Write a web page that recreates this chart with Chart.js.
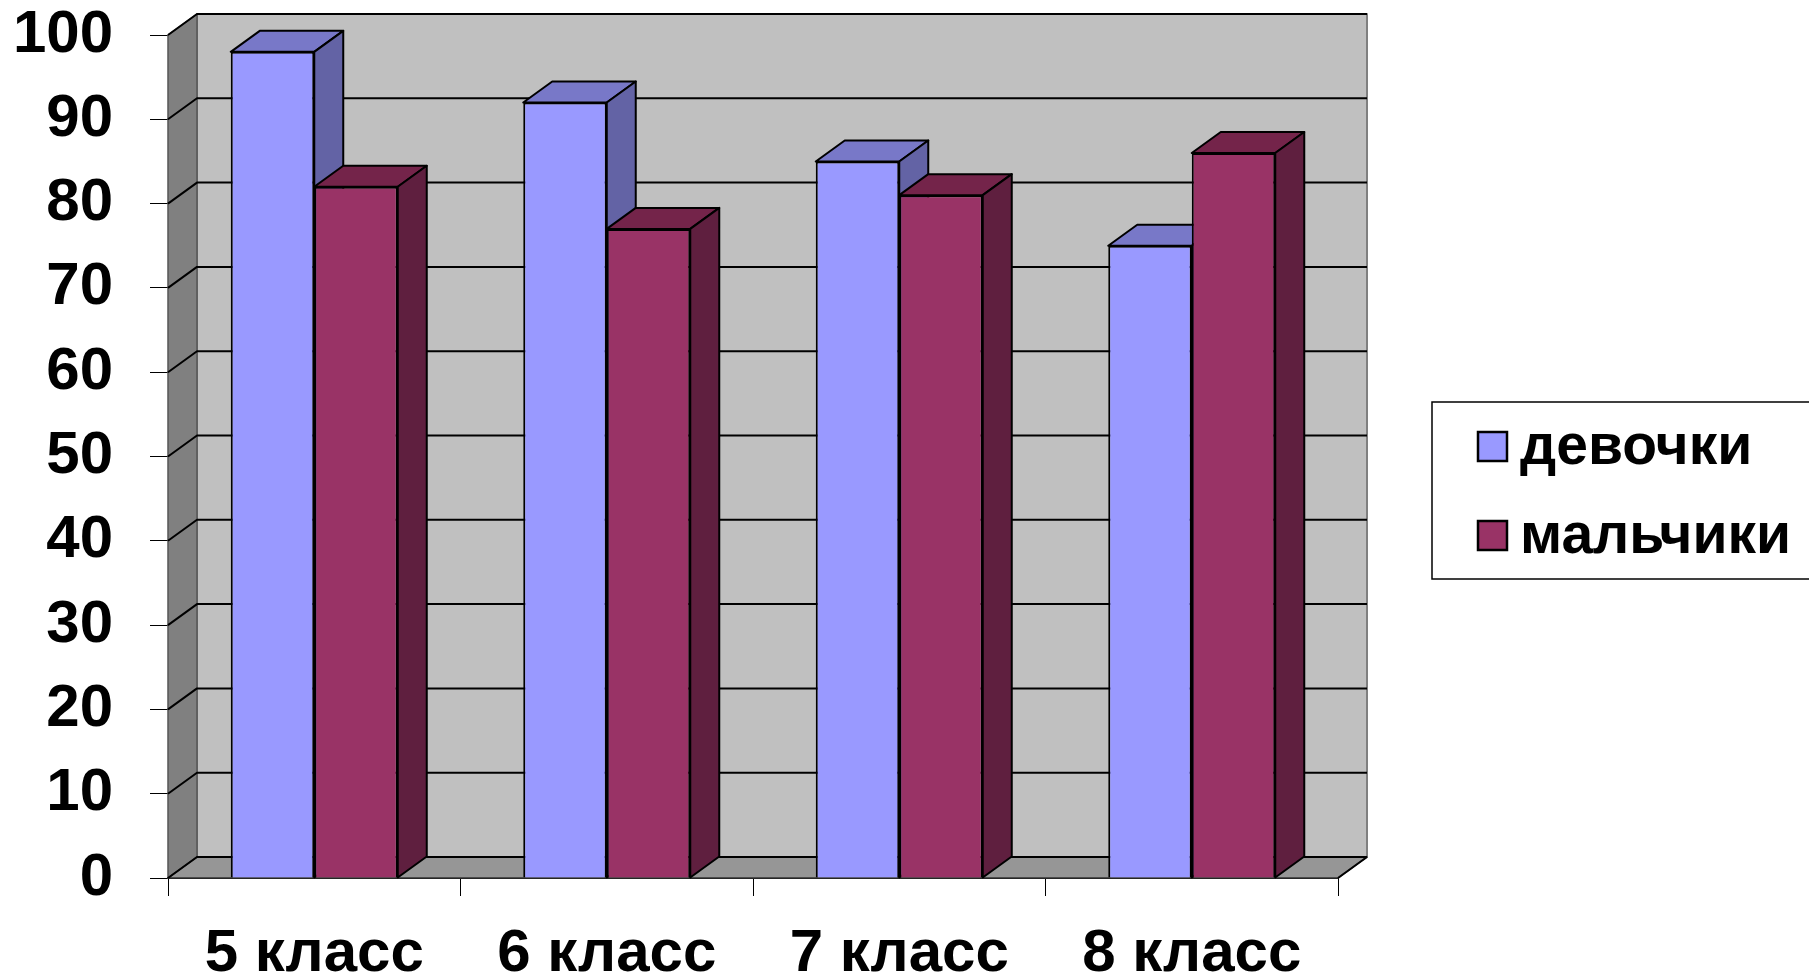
<!DOCTYPE html>
<html>
<head>
<meta charset="utf-8">
<script src="https://cdn.jsdelivr.net/npm/chart.js@4.4.0/dist/chart.umd.min.js"></script>
<style>
  html, body { margin: 0; padding: 0; background: #ffffff; }
  #wrap { width: 1809px; height: 977px; }
</style>
</head>
<body>
<div id="wrap"><canvas id="c" width="1809" height="977"></canvas></div>
<script>
// ---- data ----
const categories = ['5 класс', '6 класс', '7 класс', '8 класс'];
const girlsLabel = 'девочки';
const boysLabel = 'мальчики';
const girlsValues = [98, 92, 85, 75];
const boysValues = [82, 77, 81, 86];
const yTicks = [0, 10, 20, 30, 40, 50, 60, 70, 80, 90, 100];

// ---- style ----
const FONT = '"Liberation Sans", Arial, Helvetica, sans-serif';
const DX = 29, DY = 21;               // 3D depth offset
const girlsColors = { front: '#9999FF', top: '#7878C8', side: '#6363A5' };
const boysColors  = { front: '#993366', top: '#74244A', side: '#5F1F3F' };

function poly(ctx, pts, fill, stroke, lw) {
  ctx.beginPath();
  ctx.moveTo(pts[0][0], pts[0][1]);
  for (let i = 1; i < pts.length; i++) ctx.lineTo(pts[i][0], pts[i][1]);
  ctx.closePath();
  if (fill) { ctx.fillStyle = fill; ctx.fill(); }
  if (stroke) { ctx.strokeStyle = stroke; ctx.lineWidth = lw || 1; ctx.stroke(); }
}

const threeD = {
  id: 'threeD',
  beforeDatasetsDraw(chart) {
    const ctx = chart.ctx;
    const ys = chart.scales.y, ca = chart.chartArea;
    const L = ca.left, R = ca.right, T = ys.getPixelForValue(100), B = ys.getPixelForValue(0);
    ctx.save();
    ctx.lineJoin = 'round';
    // back wall
    poly(ctx, [[L + DX, T - DY], [R + DX, T - DY], [R + DX, B - DY], [L + DX, B - DY]], '#C0C0C0', '#808080', 2);
    // left wall
    poly(ctx, [[L, T], [L + DX, T - DY], [L + DX, B - DY], [L, B]], '#808080', '#555555', 1.5);
    // floor
    poly(ctx, [[L, B], [L + DX, B - DY], [R + DX, B - DY], [R, B]], '#969696', '#333333', 1.5);
    // gridlines
    ctx.strokeStyle = '#000';
    ctx.lineWidth = 2;
    yTicks.forEach(v => {
      const y = ys.getPixelForValue(v);
      ctx.beginPath();
      ctx.moveTo(L, y);
      ctx.lineTo(L + DX, y - DY);
      ctx.lineTo(R + DX, y - DY);
      ctx.stroke();
    });
    // right floor edge
    ctx.beginPath();
    ctx.moveTo(R, B); ctx.lineTo(R + DX, B - DY);
    ctx.stroke();

    // top and side faces of bars
    const metaG = chart.getDatasetMeta(0), metaB = chart.getDatasetMeta(1);
    const sets = [[metaG, girlsColors], [metaB, boysColors]];
    for (let i = 0; i < categories.length; i++) {
      sets.forEach(([meta, col]) => {
        const el = meta.data[i];
        const p = el.getProps(['x', 'y', 'base', 'width'], true);
        const l = p.x - p.width / 2, r = p.x + p.width / 2;
        poly(ctx, [[l, p.y], [l + DX, p.y - DY], [r + DX, p.y - DY], [r, p.y]], col.top, '#000', 2);
        poly(ctx, [[r, p.y], [r + DX, p.y - DY], [r + DX, p.base - DY], [r, p.base]], col.side, '#000', 2);
      });
    }
    ctx.restore();
  },
  afterDraw(chart) {
    const ctx = chart.ctx;
    ctx.save();
    // legend box
    ctx.strokeStyle = '#000';
    ctx.lineWidth = 1.5;
    ctx.strokeRect(1432, 402, 400, 177);
    ctx.font = 'bold 57px ' + FONT;
    ctx.textBaseline = 'middle';
    ctx.textAlign = 'left';
    const rows = [446, 535];
    chart.data.datasets.forEach((ds, i) => {
      const y = rows[i];
      ctx.fillStyle = ds.backgroundColor;
      ctx.fillRect(1478, y - 14, 29, 29);
      ctx.lineWidth = 2.5;
      ctx.strokeStyle = '#000';
      ctx.strokeRect(1478, y - 14, 29, 29);
      ctx.fillStyle = '#000';
      ctx.fillText(ds.label, 1520, y + 2);
    });
    ctx.restore();
  }
};

new Chart(document.getElementById('c'), {
  type: 'bar',
  data: {
    labels: categories,
    datasets: [
      { label: girlsLabel, data: girlsValues, backgroundColor: girlsColors.front, borderColor: '#000', borderWidth: 2 },
      { label: boysLabel, data: boysValues, backgroundColor: boysColors.front, borderColor: '#000', borderWidth: 2 }
    ]
  },
  options: {
    responsive: false,
    devicePixelRatio: 1,
    animation: false,
    events: [],
    layout: { padding: { top: 35, right: 471, bottom: 0, left: 0 } },
    datasets: { bar: { categoryPercentage: 0.571, barPercentage: 1.0 } },
    plugins: { legend: { display: false }, tooltip: { enabled: false }, title: { display: false } },
    scales: {
      x: {
        afterFit(scale) { scale.height = 99; scale.paddingLeft = 0; scale.paddingRight = 0; },
        grid: { offset: true, drawOnChartArea: false, drawTicks: true, tickLength: 18, color: '#000', lineWidth: 1 },
        border: { display: true, color: '#000', width: 2 },
        ticks: { color: '#000', padding: 22, font: { family: FONT, size: 60, weight: 'bold' }, maxRotation: 0 }
      },
      y: {
        min: 0, max: 100,
        afterFit(scale) { scale.width = 168; scale.paddingTop = 0; scale.paddingBottom = 0; },
        afterBuildTicks(scale) { scale.ticks = yTicks.map(v => ({ value: v })); },
        grid: { drawOnChartArea: false, drawTicks: true, tickLength: 18, color: '#000', lineWidth: 1 },
        border: { display: false },
        ticks: { color: '#000', padding: 37, font: { family: FONT, size: 60, weight: 'bold' } }
      }
    }
  },
  plugins: [threeD]
});
</script>
</body>
</html>
